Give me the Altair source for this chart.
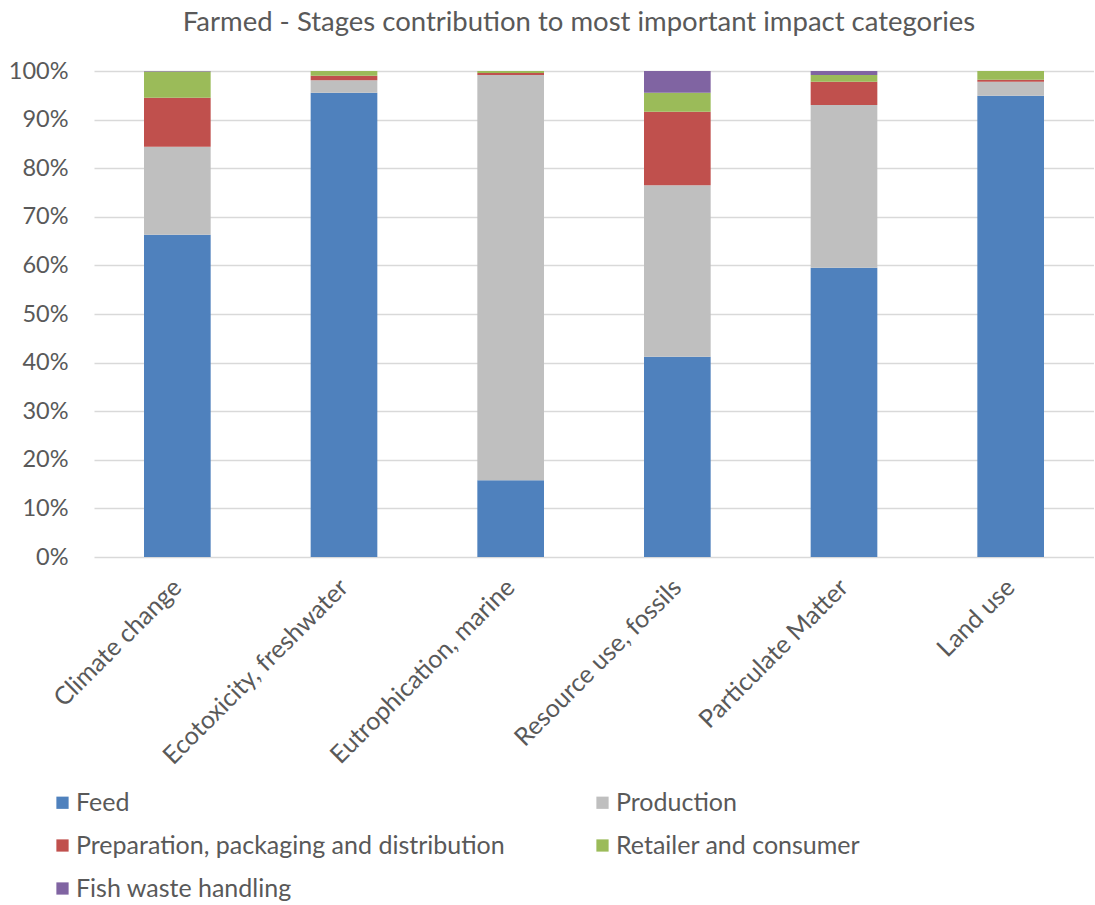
import altair as alt
import pandas as pd

# Impact categories (x axis) and the life-cycle stages stacked in each bar
categories = [
    "Climate change",
    "Ecotoxicity, freshwater",
    "Eutrophication, marine",
    "Resource use, fossils",
    "Particulate Matter",
    "Land use",
]
stages = [
    "Feed",
    "Production",
    "Preparation, packaging and distribution",
    "Retailer and consumer",
    "Fish waste handling",
]
stage_colors = ["#4F81BD", "#BFBFBF", "#C0504D", "#9BBB59", "#8064A2"]

# Share of each stage per category (fractions of 1)
feed = [0.663, 0.955, 0.158, 0.412, 0.595, 0.949]
production = [0.181, 0.026, 0.834, 0.353, 0.335, 0.029]
preparation = [0.101, 0.009, 0.004, 0.151, 0.048, 0.004]
retailer = [0.054, 0.010, 0.004, 0.039, 0.014, 0.018]
fish_waste = [0.001, 0.000, 0.000, 0.045, 0.008, 0.000]

series = [feed, production, preparation, retailer, fish_waste]
rows = []
for rank, (stage, values) in enumerate(zip(stages, series)):
    for cat, v in zip(categories, values):
        rows.append({"category": cat, "stage": stage, "share": v, "rank": rank})
df = pd.DataFrame(rows)

FONT = "Lato"
TEXT = "#595959"

chart = (
    alt.Chart(df)
    .mark_bar()
    .encode(
        x=alt.X(
            "category:N",
            sort=categories,
            title=None,
            scale=alt.Scale(paddingInner=0.6, paddingOuter=0.3),
            axis=alt.Axis(
                labelAngle=-45,
                labelAlign="right",
                labelBaseline="middle",
                labelPadding=26,
                labelFontSize=25,
                labelColor=TEXT,
                labelFont=FONT,
                domain=False,
                ticks=False,
                labelLimit=400,
            ),
        ),
        y=alt.Y(
            "share:Q",
            stack="zero",
            title=None,
            scale=alt.Scale(domain=[0, 1], nice=False),
            axis=alt.Axis(
                values=[i / 10 for i in range(11)],
                format=".0%",
                labelFontSize=23.5,
                labelColor=TEXT,
                labelFont=FONT,
                labelPadding=26,
                domain=False,
                ticks=False,
                gridColor="#D9D9D9",
                gridWidth=1.5,
            ),
        ),
        color=alt.Color(
            "stage:N",
            sort=stages,
            scale=alt.Scale(domain=stages, range=stage_colors),
            legend=alt.Legend(
                title=None,
                orient="none",
                direction="horizontal",
                legendX=-44,
                legendY=719,
                columns=2,
                columnPadding=85,
                rowPadding=17,
                symbolType="square",
                symbolSize=150,
                symbolStrokeWidth=0,
                labelFontSize=25,
                labelFont=FONT,
                labelColor=TEXT,
                labelLimit=600,
                labelOffset=1,
            ),
        ),
        order=alt.Order("rank:Q", sort="ascending"),
    )
    .properties(
        width=1000,
        height=486,
        title=alt.TitleParams(
            "Farmed - Stages contribution to most important impact categories",
            fontSize=27.5,
            font=FONT,
            color=TEXT,
            fontWeight="normal",
            anchor="middle",
            dx=-15,
            offset=23,
        ),
        autosize=alt.AutoSizeParams(type="none"),
        padding={"left": 94, "top": 71, "right": 0, "bottom": 347},
    )
    .configure_view(stroke=None)
)

chart.save("out.html", embed_options={"renderer": "svg", "actions": False})
